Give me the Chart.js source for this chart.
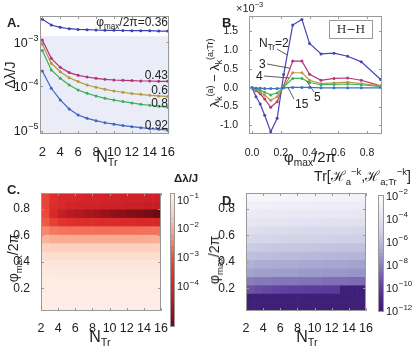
<!DOCTYPE html>
<html>
<head>
<meta charset="utf-8">
<script src="https://cdn.jsdelivr.net/npm/chart.js@4.4.0/dist/chart.umd.min.js"></script>
<style>
  body { margin: 0; background: #fff; }
  #wrap { position: relative; width: 415px; height: 347px; overflow: hidden;
          font-family: 'Liberation Sans', Arial, sans-serif; color: #222; }
  canvas { position: absolute; }
  .t { position: absolute; white-space: nowrap; line-height: 1; }
  .t sub, .t sup { font-size: 68%; line-height: 0; }
  .b { font-weight: bold; }
  .rot { transform: translate(-50%, -50%) rotate(-90deg); }
  .ctr { transform: translate(-50%, -50%); }
  .hh { position: absolute; border: 1px solid #999; font-family: 'DejaVu Serif', serif;
        font-size: 11px; text-align: center; line-height: 17px; }
</style>
</head>
<body>
<div id="wrap">
  <canvas id="chartA" width="178" height="175" style="left:0;top:0"></canvas>
  <canvas id="chartB" width="185" height="175" style="left:205px;top:0"></canvas>
  <canvas id="chartC" width="170" height="169" style="left:0;top:178px"></canvas>
  <canvas id="chartD" width="170" height="169" style="left:205px;top:178px"></canvas>
  <canvas id="barC" width="45" height="150" style="left:165px;top:185px"></canvas>
  <canvas id="barD" width="43" height="135" style="left:372px;top:185px"></canvas>

  <!-- panel A text -->
  <div class="t b" style="left:7px;top:16px;font-size:13px">A.</div>
  <div class="t" style="right:247px;top:16px;font-size:12px">φ<sub>max</sub>/2π=0.36</div>
  <div class="t" style="right:247px;top:69px;font-size:12px">0.43</div>
  <div class="t" style="right:247px;top:84px;font-size:12px">0.6</div>
  <div class="t" style="right:247px;top:97px;font-size:12px">0.8</div>
  <div class="t" style="right:247px;top:119px;font-size:12px">0.92</div>
  <div class="t rot" style="left:10px;top:75px;font-size:14px">Δλ/J</div>
  <div class="t ctr" style="left:107px;top:157px;font-size:16px">N<sub>Tr</sub></div>

  <!-- panel B text -->
  <div class="t b" style="left:222px;top:16px;font-size:13px">B.</div>
  <div class="t" style="left:236px;top:3px;font-size:11px">×10<sup>−3</sup></div>
  <div class="t rot" style="left:214px;top:73px;font-size:13px">λ<sub>k</sub><sup>(a)</sup> − λ<sub>k</sub><sup>(a;Tr)</sup></div>
  <div class="hh" style="left:329px;top:20px;width:42px;height:17px">H−H</div>
  <div class="t" style="left:259px;top:37px;font-size:12px">N<sub>Tr</sub>=2</div>
  <div class="t" style="left:259px;top:58px;font-size:12px">3</div>
  <div class="t" style="left:256px;top:70px;font-size:12px">4</div>
  <div class="t" style="left:314px;top:91px;font-size:12px">5</div>
  <div class="t" style="left:295px;top:98px;font-size:12px">15</div>
  <div class="t ctr" style="left:310px;top:156px;font-size:15px">φ<sub>max</sub>/2π</div>

  <!-- panel C text -->
  <div class="t b" style="left:7px;top:183px;font-size:13px">C.</div>
  <div class="t b" style="left:174px;top:173px;font-size:11.5px">Δλ/J</div>
  <div class="t rot" style="left:13px;top:258px;font-size:14px">φ<sub>max</sub>/2π</div>
  <div class="t ctr" style="left:100px;top:337px;font-size:16px">N<sub>Tr</sub></div>

  <!-- panel D text -->
  <div class="t b" style="left:222px;top:194px;font-size:13px">D.</div>
  <div class="t" style="right:4px;top:169px;font-size:14px">Tr[ℋ<sub>a</sub><sup>−k</sup>,ℋ<sub>a;Tr</sub><sup>−k</sup>]</div>
  <div class="t rot" style="left:214px;top:260px;font-size:14px">φ<sub>max</sub>/2π</div>
  <div class="t ctr" style="left:307px;top:337px;font-size:16px">N<sub>Tr</sub></div>
</div>

<script>
// ---- panel A: gap vs N_Tr, one curve per phi_max/2pi ----
const nTr = [2, 3, 4, 5, 6, 7, 8, 9, 10, 11, 12, 13, 14, 15, 16];
const gap036 = [3.31e-3, 2.46e-3, 2.18e-3, 2.03e-3, 1.96e-3, 1.93e-3, 1.90e-3, 1.87e-3, 1.87e-3, 1.85e-3, 1.83e-3, 1.83e-3, 1.83e-3, 1.80e-3, 1.80e-3];
const gap043 = [1.13e-3, 4.34e-4, 2.71e-4, 2.06e-4, 1.79e-4, 1.64e-4, 1.53e-4, 1.45e-4, 1.40e-4, 1.38e-4, 1.36e-4, 1.33e-4, 1.33e-4, 1.31e-4, 1.31e-4];
const gap06 = [9.0e-4, 3.35e-4, 2.16e-4, 1.58e-4, 1.29e-4, 1.08e-4, 9.6e-5, 8.6e-5, 7.9e-5, 7.4e-5, 6.9e-5, 6.65e-5, 6.3e-5, 6.1e-5, 5.9e-5];
const gap08 = [6.5e-4, 2.36e-4, 1.53e-4, 1.08e-4, 8.3e-5, 7.0e-5, 6.1e-5, 5.4e-5, 4.95e-5, 4.55e-5, 4.24e-5, 3.95e-5, 3.76e-5, 3.56e-5, 3.39e-5];
const gap092 = [2.24e-4, 9.1e-5, 4.95e-5, 3.1e-5, 2.26e-5, 1.9e-5, 1.68e-5, 1.51e-5, 1.4e-5, 1.3e-5, 1.23e-5, 1.17e-5, 1.11e-5, 1.07e-5, 1.04e-5];
const ticksAx = [2, 4, 6, 8, 10, 12, 14, 16];
const ticksAy = [1e-5, 1e-4, 1e-3];

// ---- panel B: eigenvalue difference (x1e-3) vs phi_max/2pi ----
const phiB = [0, 0.028, 0.057, 0.088, 0.13, 0.175, 0.22, 0.283, 0.347, 0.40, 0.48, 0.57, 0.665, 0.76, 0.895];
const diff2 = [0, -0.24, -0.43, -0.73, -1.17, -0.81, 0.35, 1.67, 1.82, 1.18, 0.90, 0.92, 0.84, 0.69, 0.22];
const diff3 = [0, -0.08, -0.16, -0.30, -0.52, -0.37, 0.05, 0.71, 0.71, 0.36, 0.20, 0.25, 0.26, 0.20, 0.05];
const diff4 = [0, -0.05, -0.11, -0.20, -0.33, -0.24, 0.03, 0.40, 0.40, 0.20, 0.11, 0.13, 0.15, 0.11, 0.05];
const diff5 = [0, -0.03, -0.07, -0.12, -0.19, -0.14, 0.02, 0.25, 0.25, 0.14, 0.08, 0.09, 0.10, 0.08, 0.03];
const diff15 = [0, -0.01, -0.01, -0.02, -0.02, -0.02, 0.0, 0.01, 0.01, 0.01, 0.0, 0.0, 0.0, 0.0, 0.0];
const ticksBx = [0, 0.2, 0.4, 0.6, 0.8];
const ticksBy = [-1, -0.5, 0, 0.5, 1, 1.5];

// ---- panels C, D: density maps (log10 values), rows bottom -> top ----
const cellN = [2, 3, 4, 5, 6, 7, 8, 9, 10, 11, 12, 13, 14, 15];
const phiEdges = [0.028, 0.092, 0.156, 0.219, 0.283, 0.347, 0.411, 0.474, 0.538, 0.602, 0.666, 0.730, 0.793, 0.857, 0.921];
const logGapC = [
  [-0.88, -0.88, -0.88, -0.88, -0.88, -0.88, -0.88, -0.88, -0.88, -0.88, -0.88, -0.88, -0.88, -0.88],
  [-0.88, -0.88, -0.88, -0.88, -0.88, -0.88, -0.88, -0.88, -0.88, -0.88, -0.88, -0.88, -0.88, -0.88],
  [-0.9, -0.9, -0.9, -0.9, -0.9, -0.9, -0.9, -0.9, -0.9, -0.9, -0.9, -0.9, -0.9, -0.9],
  [-0.92, -0.92, -0.92, -0.92, -0.92, -0.92, -0.92, -0.92, -0.92, -0.92, -0.92, -0.92, -0.92, -0.92],
  [-0.95, -0.95, -0.96, -0.96, -0.96, -0.96, -0.96, -0.96, -0.96, -0.96, -0.96, -0.96, -0.96, -0.96],
  [-1.0, -1.02, -1.03, -1.03, -1.03, -1.03, -1.03, -1.03, -1.03, -1.03, -1.03, -1.03, -1.03, -1.03],
  [-1.15, -1.2, -1.2, -1.2, -1.2, -1.2, -1.2, -1.2, -1.2, -1.2, -1.2, -1.2, -1.2, -1.2],
  [-1.45, -1.5, -1.52, -1.52, -1.52, -1.52, -1.52, -1.52, -1.52, -1.52, -1.52, -1.52, -1.52, -1.5],
  [-1.9, -2.0, -2.02, -2.03, -2.03, -2.03, -2.03, -2.03, -2.03, -2.03, -2.03, -2.02, -2.02, -2.0],
  [-2.4, -2.55, -2.6, -2.62, -2.63, -2.64, -2.65, -2.65, -2.65, -2.65, -2.65, -2.64, -2.63, -2.62],
  [-2.9, -3.3, -3.5, -3.6, -3.65, -3.7, -3.7, -3.75, -3.75, -3.8, -3.8, -3.85, -3.85, -3.9],
  [-3.1, -3.9, -4.3, -4.5, -4.6, -4.7, -4.8, -4.9, -5.0, -5.05, -5.15, -5.2, -5.3, -5.4],
  [-3.2, -3.7, -3.9, -4.0, -4.05, -4.1, -4.1, -4.15, -4.2, -4.2, -4.25, -4.25, -4.3, -4.3],
  [-3.2, -3.6, -3.85, -3.9, -3.95, -4.0, -4.0, -4.05, -4.05, -4.1, -4.1, -4.1, -4.15, -4.15]
];
const logTrD = [
  [-11.8, -11.8, -11.8, -11.8, -11.8, -11.8, -11.8, -11.8, -11.8, -11.8, -11.8, -11.8, -11.8, -11.8],
  [-11.8, -11.8, -11.8, -11.8, -11.8, -11.8, -11.8, -11.8, -11.8, -11.8, -11.8, -11.8, -11.8, -11.8],
  [-9.4, -9.6, -9.7, -9.8, -9.9, -10.0, -10.0, -10.1, -10.1, -10.2, -10.2, -11.8, -11.8, -11.8],
  [-8.2, -8.3, -8.3, -8.4, -8.4, -8.4, -8.5, -8.5, -8.5, -8.6, -8.6, -8.6, -8.7, -8.7],
  [-7.0, -7.1, -7.1, -7.2, -7.2, -7.2, -7.3, -7.3, -7.3, -7.4, -7.4, -7.4, -7.5, -7.5],
  [-6.5, -6.6, -6.6, -6.7, -6.7, -6.7, -6.8, -6.8, -6.8, -6.9, -6.9, -6.9, -7.0, -7.0],
  [-5.9, -6.0, -6.0, -6.05, -6.1, -6.1, -6.15, -6.2, -6.2, -6.25, -6.3, -6.3, -6.35, -6.35],
  [-5.3, -5.4, -5.45, -5.5, -5.5, -5.55, -5.6, -5.6, -5.65, -5.7, -5.7, -5.75, -5.75, -5.8],
  [-4.7, -4.8, -4.85, -4.9, -4.95, -5.0, -5.0, -5.05, -5.1, -5.1, -5.15, -5.15, -5.2, -5.2],
  [-4.3, -4.4, -4.45, -4.5, -4.5, -4.55, -4.6, -4.6, -4.65, -4.65, -4.7, -4.7, -4.75, -4.75],
  [-3.7, -3.8, -3.85, -3.9, -3.95, -4.0, -4.0, -4.05, -4.05, -4.1, -4.1, -4.15, -4.15, -4.2],
  [-3.3, -3.4, -3.45, -3.5, -3.5, -3.55, -3.6, -3.6, -3.65, -3.65, -3.7, -3.7, -3.7, -3.75],
  [-2.8, -2.9, -2.95, -3.0, -3.0, -3.05, -3.1, -3.1, -3.15, -3.15, -3.2, -3.2, -3.2, -3.25],
  [-2.3, -2.4, -2.45, -2.5, -2.5, -2.55, -2.6, -2.6, -2.65, -2.65, -2.7, -2.7, -2.7, -2.75]
];
const ticksMapX = [2, 4, 6, 8, 10, 12, 14, 16];
const ticksMapY = [0.2, 0.4, 0.6, 0.8];
const ticksBarC = [-1, -2, -3, -4];
const ticksBarD = [-2, -4, -6, -8, -10, -12];

// colour scales (log10 value -> colour)
const redStops = [[-5.42, '#6a0a12'], [-4.8, '#a3141c'], [-4.2, '#cd2027'], [-3.6, '#e02f2c'],
  [-3.0, '#ee4e3e'], [-2.5, '#f47e66'], [-2.0, '#f8ae95'], [-1.5, '#fbd0bf'], [-1.0, '#fde6dc'], [-0.77, '#fff4ef']];
const purpleStops = [[-12.1, '#3b1c74'], [-11, '#4a2a88'], [-10, '#5f3d9e'], [-9, '#7660ae'], [-8, '#8a85be'],
  [-7, '#a4a3cf'], [-6, '#bdbddd'], [-5, '#d3d3e8'], [-4, '#e4e3f1'], [-3, '#f0eff7'], [-1.95, '#fbfbfd']];

function hexRgb(h) { return [1, 3, 5].map(i => parseInt(h.substr(i, 2), 16)); }
function colorAt(stops, v) {
  if (v <= stops[0][0]) return stops[0][1];
  for (let i = 1; i < stops.length; i++) {
    if (v <= stops[i][0]) {
      const t = (v - stops[i - 1][0]) / (stops[i][0] - stops[i - 1][0]);
      const a = hexRgb(stops[i - 1][1]), b = hexRgb(stops[i][1]);
      return 'rgb(' + a.map((c, k) => Math.round(c + (b[k] - c) * t)).join(',') + ')';
    }
  }
  return stops[stops.length - 1][1];
}

const FAMILY = "'Liberation Sans', Arial, sans-serif";
Chart.defaults.font.family = FAMILY;
Chart.defaults.color = '#222';
Chart.defaults.animation = false;
Chart.defaults.plugins.legend.display = false;
Chart.defaults.plugins.tooltip.enabled = false;

// frame round the plot area plus small inner ticks
Chart.register({
  id: 'frame',
  afterDraw(chart, args, opts) {
    const { ctx, chartArea: a } = chart;
    ctx.save();
    ctx.strokeStyle = '#9a9a9a';
    ctx.lineWidth = 1;
    ctx.strokeRect(Math.round(a.left) + 0.5, Math.round(a.top) + 0.5, Math.round(a.right - a.left) - 1, Math.round(a.bottom - a.top) - 1);
    if (opts.ticks) {
      const xs = chart.scales.x, ys = chart.scales.y;
      ctx.beginPath();
      xs.ticks.forEach(t => { const p = Math.round(xs.getPixelForValue(t.value)) + 0.5; ctx.moveTo(p, a.bottom); ctx.lineTo(p, a.bottom - 3); ctx.moveTo(p, a.top); ctx.lineTo(p, a.top + 3); });
      ys.ticks.forEach(t => { const p = Math.round(ys.getPixelForValue(t.value)) + 0.5; ctx.moveTo(a.left, p); ctx.lineTo(a.left + 3, p); ctx.moveTo(a.right, p); ctx.lineTo(a.right - 3, p); });
      ctx.stroke();
    }
    ctx.restore();
  }
});

// "10" with a raised exponent for the y tick labels
const powPlugin = {
  id: 'pow',
  afterDraw(chart, args, opts) {
    const { ctx, chartArea: a } = chart;
    const s = chart.scales.y;
    ctx.save();
    ctx.fillStyle = '#222';
    ctx.textAlign = 'left';
    ctx.textBaseline = 'alphabetic';
    s.ticks.forEach(t => {
      const e = opts.exponent(t.value);
      const exp = (e < 0 ? '−' : '') + Math.abs(e);
      const y = s.getPixelForValue(t.value);
      ctx.font = opts.size + 'px ' + FAMILY;
      const w1 = ctx.measureText('10').width;
      ctx.font = opts.supSize + 'px ' + FAMILY;
      const w2 = ctx.measureText(exp).width;
      const x0 = opts.side === 'left' ? a.left - opts.pad - w1 - w2 : a.right + opts.pad;
      ctx.font = opts.size + 'px ' + FAMILY;
      ctx.fillText('10', x0, y + opts.size * 0.36);
      ctx.font = opts.supSize + 'px ' + FAMILY;
      ctx.fillText(exp, x0 + w1 + 0.5, y - opts.size * 0.12);
    });
    ctx.restore();
  }
};

// light background band of panel A
const shadePlugin = {
  id: 'shade',
  beforeDatasetsDraw(chart, args, opts) {
    const { ctx, chartArea: a } = chart;
    const y = chart.scales.y.getPixelForValue(opts.from);
    ctx.save();
    ctx.fillStyle = '#eaecf8';
    ctx.fillRect(a.left, y, a.right - a.left, a.bottom - y);
    ctx.restore();
  }
};

// leader lines from the labels of panel B to their curves
const leaderPlugin = {
  id: 'leaders',
  afterDatasetsDraw(chart, args, opts) {
    const { ctx } = chart;
    const xs = chart.scales.x, ys = chart.scales.y;
    ctx.save();
    ctx.strokeStyle = '#333';
    ctx.lineWidth = 0.8;
    opts.items.forEach(it => {
      ctx.beginPath();
      ctx.moveTo(it.px, it.py);
      ctx.lineTo(xs.getPixelForValue(it.x), ys.getPixelForValue(it.y));
      ctx.stroke();
    });
    ctx.restore();
  }
};

function fixWidth(w) { return s => { s.width = w; }; }
function fixHeight(h) { return s => { s.height = h; }; }
function setTicks(list) { return s => { s.ticks = list.map(v => ({ value: v })); }; }

function lineSet(xs, ys, color) {
  return {
    data: xs.map((x, i) => ({ x: x, y: ys[i] })),
    borderColor: color, backgroundColor: color,
    borderWidth: 1.2, pointRadius: 1.5, pointBorderWidth: 0, tension: 0
  };
}

// ---- chart A ----
new Chart(document.getElementById('chartA'), {
  type: 'line',
  data: {
    datasets: [
      lineSet(nTr, gap036, '#3a40b2'),
      lineSet(nTr, gap043, '#b5317a'),
      lineSet(nTr, gap06, '#b59a3c'),
      lineSet(nTr, gap08, '#3fae5a'),
      lineSet(nTr, gap092, '#4166c4')
    ]
  },
  options: {
    responsive: false,
    layout: { padding: { top: 16, right: 8, left: 0, bottom: 0 } },
    plugins: {
      frame: { ticks: true },
      shade: { from: 1.38e-3 },
      pow: { side: 'left', size: 12.5, supSize: 9, pad: 2, exponent: v => Math.round(Math.log10(v)) }
    },
    scales: {
      x: {
        type: 'linear', min: 1.74, max: 16.19,
        afterBuildTicks: setTicks(ticksAx), afterFit: fixHeight(41),
        grid: { display: false }, border: { display: false },
        ticks: { font: { size: 13 }, padding: 3, autoSkip: false, maxRotation: 0 }
      },
      y: {
        type: 'logarithmic', min: 8.4e-6, max: 3.94e-3,
        afterBuildTicks: setTicks(ticksAy), afterFit: fixWidth(40),
        grid: { display: false }, border: { display: false },
        ticks: { display: false }
      }
    }
  },
  plugins: [shadePlugin, powPlugin]
});

// ---- chart B ----
new Chart(document.getElementById('chartB'), {
  type: 'line',
  data: {
    datasets: [
      lineSet(phiB, diff15, '#3f72c4'),
      lineSet(phiB, diff5, '#3cb464'),
      lineSet(phiB, diff4, '#bb9a3d'),
      lineSet(phiB, diff3, '#b8337a'),
      lineSet(phiB, diff2, '#4646b4')
    ]
  },
  options: {
    responsive: false,
    layout: { padding: { top: 16, right: 8, left: 0, bottom: 0 } },
    plugins: {
      frame: { ticks: true },
      leaders: {
        items: [
          { px: 72, py: 49, x: 0.245, y: 0.87 },
          { px: 62, py: 64, x: 0.265, y: 0.52 },
          { px: 59, py: 76, x: 0.26, y: 0.26 },
          { px: 109, py: 92, x: 0.38, y: 0.18 },
          { px: 89, py: 99, x: 0.25, y: 0.005 }
        ]
      }
    },
    scales: {
      x: {
        type: 'linear', min: -0.021, max: 0.904,
        afterBuildTicks: setTicks(ticksBx), afterFit: fixHeight(41),
        grid: { display: false }, border: { display: false },
        ticks: { font: { size: 10.5 }, padding: 5, autoSkip: false, maxRotation: 0, callback: v => v.toFixed(1) }
      },
      y: {
        type: 'linear', min: -1.23, max: 1.91,
        afterBuildTicks: setTicks(ticksBy), afterFit: fixWidth(44),
        grid: { display: false }, border: { display: false },
        ticks: { font: { size: 10.5 }, padding: 3, callback: v => v.toFixed(1) }
      }
    }
  },
  plugins: [leaderPlugin]
});

// ---- density maps ----
function mapConfig(grid, stops) {
  return {
    type: 'bar',
    data: {
      datasets: grid.map((row, r) => ({
        data: cellN.map(n => ({ x: n + 0.5, y: [phiEdges[r], phiEdges[r + 1]] })),
        backgroundColor: row.map(v => colorAt(stops, v)),
        grouped: false, barPercentage: 1, categoryPercentage: 1, borderWidth: 0
      }))
    },
    options: {
      responsive: false,
      layout: { padding: { top: 15, right: 7, left: 0, bottom: 0 } },
      plugins: { frame: { ticks: true } },
      scales: {
        x: {
          type: 'linear', min: 2, max: 16, offset: false,
          afterBuildTicks: setTicks(ticksMapX), afterFit: fixHeight(36),
          grid: { display: false }, border: { display: false },
          ticks: { font: { size: 12.5 }, padding: 2, autoSkip: false, maxRotation: 0 }
        },
        y: {
          type: 'linear', min: 0.028, max: 0.921,
          afterBuildTicks: setTicks(ticksMapY), afterFit: fixWidth(41),
          grid: { display: false }, border: { display: false },
          ticks: { font: { size: 12 }, padding: 3, callback: v => v.toFixed(1) }
        }
      }
    }
  };
}
new Chart(document.getElementById('chartC'), mapConfig(logGapC, redStops));
new Chart(document.getElementById('chartD'), mapConfig(logTrD, purpleStops));

// ---- colour bars ----
function barConfig(stops, lo, hi, step, tickList, pad, axisW) {
  const bands = [];
  for (let v = lo; v < hi; v += step) bands.push([v, Math.min(v + step, hi)]);
  return {
    type: 'bar',
    data: {
      labels: [''],
      datasets: bands.map(b => ({
        data: [b], backgroundColor: colorAt(stops, (b[0] + b[1]) / 2),
        grouped: false, barPercentage: 1, categoryPercentage: 1, borderWidth: 0
      }))
    },
    options: {
      responsive: false,
      layout: { padding: pad },
      plugins: {
        frame: { ticks: false },
        pow: { side: 'right', size: 11, supSize: 8, pad: 2, exponent: v => v }
      },
      scales: {
        x: { display: false },
        y: {
          position: 'right', min: lo, max: hi,
          afterBuildTicks: setTicks(tickList), afterFit: fixWidth(axisW),
          grid: { display: false }, border: { display: false },
          ticks: { display: false }
        }
      }
    },
    plugins: [powPlugin]
  };
}
new Chart(document.getElementById('barC'), barConfig(redStops, -5.42, -0.77, 0.2, ticksBarC, { left: 5, top: 8, bottom: 8, right: 0 }, 35));
new Chart(document.getElementById('barD'), barConfig(purpleStops, -12.1, -1.95, 0.34, ticksBarD, { left: 6, top: 10, bottom: 8, right: 0 }, 31));
</script>
</body>
</html>
